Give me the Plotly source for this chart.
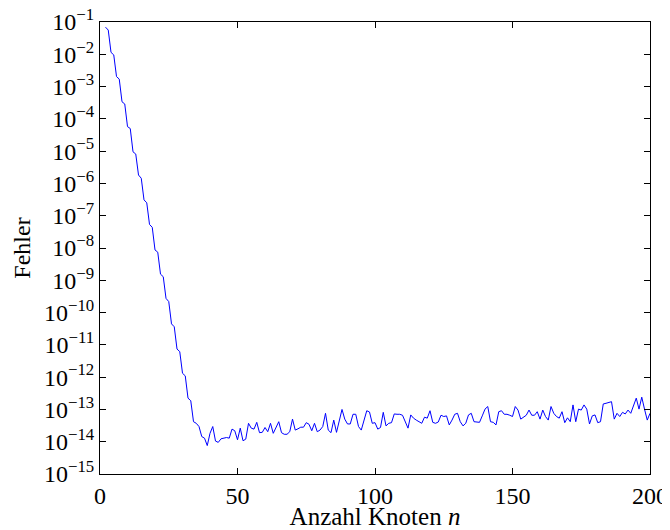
import plotly.graph_objects as go

# Anzahl Knoten n (2..200)
n_values = list(range(2, 201))

# log10 of the error
log_fehler = [
    -1.16, -1.25, -1.94, -2.02, -2.69, -2.77, -3.47, -3.54, -4.24, -4.30,   # 2-11
    -5.02, -5.09, -5.74, -5.84, -6.51, -6.60, -7.27, -7.36, -8.06, -8.13,   # 12-21
    -8.81, -8.89, -9.56, -9.66, -10.35, -10.44, -11.13, -11.21, -11.88, -11.96,  # 22-31
    -12.65, -12.73, -13.38, -13.43, -13.53, -13.84, -13.89, -14.12, -13.74, -13.53,  # 32-41
    -13.98, -14.02, -13.91, -13.90, -13.87, -13.89, -13.61, -13.66, -13.94, -13.58,  # 42-51
    -13.97, -13.92, -13.43, -13.58, -13.61, -13.40, -13.72, -13.71, -13.56, -13.69,  # 52-61
    -13.43, -13.74, -13.53, -13.38, -13.72, -13.77, -13.77, -13.69, -13.30, -13.64,  # 62-71
    -13.60, -13.55, -13.55, -13.41, -13.46, -13.66, -13.43, -13.69, -13.64, -13.53,  # 72-81
    -13.12, -13.64, -13.72, -13.33, -13.71, -13.30, -13.00, -13.30, -13.45, -13.45,  # 82-91
    -13.15, -13.15, -13.53, -13.64, -13.35, -13.04, -13.08, -13.43, -13.41, -13.61,  # 92-101
    -13.56, -13.09, -13.51, -13.43, -13.41, -13.14, -13.15, -13.15, -13.18, -13.40,  # 102-111
    -13.58, -13.17, -13.27, -13.33, -13.38, -13.43, -13.24, -13.27, -13.04, -13.40,  # 112-121
    -13.43, -13.39, -13.18, -13.22, -13.20, -13.48, -13.33, -13.15, -13.12, -13.38,  # 122-131
    -13.51, -13.43, -13.17, -13.12, -13.38, -13.38, -13.40, -13.20, -12.99, -12.91,  # 132-141
    -13.38, -13.40, -13.48, -13.07, -13.04, -13.15, -13.15, -13.18, -13.22, -12.91,  # 142-151
    -13.02, -13.30, -13.24, -13.18, -13.02, -13.18, -13.18, -13.07, -13.30, -13.02,  # 152-161
    -13.22, -13.33, -12.91, -13.12, -13.22, -13.27, -13.07, -13.41, -13.26, -13.38,  # 162-171
    -12.86, -13.38, -12.99, -13.02, -12.86, -12.99, -13.45, -13.20, -13.17, -13.41,  # 172-181
    -13.38, -12.83, -12.81, -12.78, -12.76, -13.30, -13.12, -13.22, -13.09, -13.14,  # 182-191
    -13.02, -13.12, -12.89, -12.65, -12.99, -12.62, -12.99, -13.33, -13.12,         # 192-200
]
assert len(log_fehler) == len(n_values)
fehler = [10 ** v for v in log_fehler]

y_exponents = list(range(-15, 0))
y_tickvals = [10 ** e for e in y_exponents]
y_ticktext = ["10<sup>\u2212%d</sup>" % (-e) for e in y_exponents]
x_tickvals = [0, 50, 100, 150, 200]

FONT = "Liberation Serif"

fig = go.Figure()
fig.add_trace(go.Scatter(
    x=n_values, y=fehler, mode="lines",
    line=dict(color="#0000ff", width=1),
    showlegend=False,
))

# the page body adds an 8px offset, so the figure is sized to fit the window
fig.update_layout(
    width=662, height=522,
    margin=dict(l=92, r=20, t=14, b=56),
    paper_bgcolor="white", plot_bgcolor="white",
    font=dict(family=FONT, size=20, color="black"),
)
fig.update_xaxes(
    range=[0, 200], tickvals=x_tickvals, ticktext=[str(v) for v in x_tickvals],
    ticks="inside", ticklen=6, tickwidth=1, tickcolor="black",
    showline=True, linecolor="black", linewidth=1, mirror="allticks",
    showgrid=False, zeroline=False, automargin=False, ticklabeloverflow="allow",
    title=dict(text="Anzahl Knoten <i>n</i>", font=dict(size=25), standoff=2),
    tickfont=dict(size=24),
)
fig.update_yaxes(
    type="log", range=[-15, -1], tickvals=y_tickvals, ticktext=y_ticktext,
    ticks="inside", ticklen=6, tickwidth=1, tickcolor="black",
    showline=True, linecolor="black", linewidth=1, mirror="allticks",
    showgrid=False, zeroline=False, automargin=False, ticklabeloverflow="allow",
    title=dict(text="Fehler", font=dict(size=24), standoff=6),
    tickfont=dict(size=24),
)

fig.write_html("out.html")
